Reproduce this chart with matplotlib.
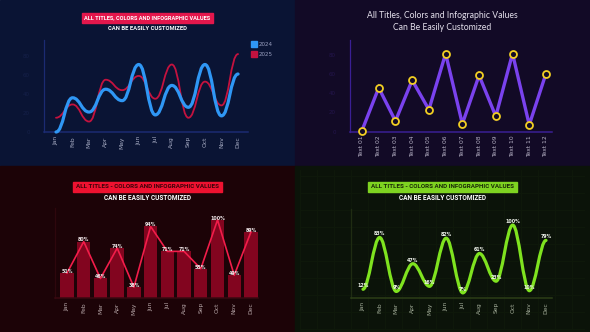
import matplotlib.pyplot as plt
from matplotlib.patches import Rectangle, PathPatch
from matplotlib.path import Path
from matplotlib.lines import Line2D

months = ["Jan", "Feb", "Mar", "Apr", "May", "Jun", "Jul", "Aug", "Sep", "Oct", "Nov", "Dec"]
sales_2024 = [0, 36, 21, 45, 33, 71, 18, 49, 26, 71, 17, 61]
sales_2025 = [15, 29, 11, 55, 44, 59, 35, 71, 15, 53, 28, 82]

text_labels = ["Text 01", "Text 02", "Text 03", "Text 04", "Text 05", "Text 06",
               "Text 07", "Text 08", "Text 09", "Text 10", "Text 11", "Text 12"]
text_values = [1, 46, 11, 54, 23, 82, 8, 59, 16, 82, 7, 61]

bar_values = [51, 80, 46, 74, 38, 94, 71, 71, 55, 100, 49, 89]
green_values = [12, 83, 9, 47, 16, 82, 7, 61, 23, 100, 10, 79]

y_ticks = [0, 20, 40, 60, 80]

W, H = 590, 332
fig = plt.figure(figsize=(W / 100, H / 100), dpi=100)

NARROW = ["Roboto", "DejaVu Sans"]


def rect(l, t, r, b):
    return [l / W, 1 - b / H, (r - l) / W, (b - t) / H]


def bg(l, t, r, b, color):
    fig.add_artist(Rectangle((l / W, 1 - b / H), (r - l) / W, (b - t) / H,
                             transform=fig.transFigure, color=color, zorder=-10))


def ftext(x, y, s, **kw):
    fig.text(x / W, 1 - y / H, s, ha="center", va="center", **kw)


def smooth(ax, ys, k, **kw):
    xs = list(range(len(ys)))
    verts = [(xs[0], ys[0])]
    codes = [Path.MOVETO]
    for i in range(len(xs) - 1):
        dx = xs[i + 1] - xs[i]
        verts += [(xs[i] + k * dx, ys[i]), (xs[i + 1] - k * dx, ys[i + 1]), (xs[i + 1], ys[i + 1])]
        codes += [Path.CURVE4] * 3
    ax.add_patch(PathPatch(Path(verts, codes), fill=False, capstyle="round",
                           joinstyle="round", clip_on=False, **kw))


def style_axes(ax, axis_color, label_color, labels):
    ax.set_facecolor("none")
    for s in ["top", "right"]:
        ax.spines[s].set_visible(False)
    ax.spines["left"].set_color(axis_color)
    ax.spines["bottom"].set_color(axis_color)
    ax.spines["left"].set_linewidth(0.9)
    ax.spines["bottom"].set_linewidth(1.1)
    ax.set_xticks(range(len(labels)))
    ax.set_xticklabels(labels, rotation=90, fontsize=4.3, color=label_color, va="top")
    ax.tick_params(axis="x", length=0, pad=3)
    ax.tick_params(axis="y", length=0)


# backgrounds
bg(0, 0, 295, 166, "#0a1434")
bg(295, 0, 590, 166, "#120a26")
bg(0, 166, 295, 332, "#1c0307")
bg(295, 166, 590, 332, "#0b1309")

# ---------------- panel 1: smooth lines
ax1 = fig.add_axes(rect(44, 40, 248, 132))
style_axes(ax1, "#1b2b72", "#a7acc4", months)
ax1.set_xlim(-0.725, 11.6)
ax1.set_ylim(0, 96.8)
ax1.set_yticks(y_ticks)
ax1.set_yticklabels([str(v) for v in y_ticks], fontsize=4, color="#152049")
ax1.tick_params(axis="y", pad=10)
smooth(ax1, sales_2025, 0.45, color="#c4123f", lw=1.3, zorder=2)
smooth(ax1, sales_2024, 0.45, color="#2f97f5", lw=2.3, zorder=3)
handles = [Line2D([], [], marker="s", ls="none", color="#2f97f5", markersize=4),
           Line2D([], [], marker="s", ls="none", color="#c4123f", markersize=4)]
leg = ax1.legend(handles, ["2024", "2025"], loc="upper left", bbox_to_anchor=(1.01, 1.0),
                 frameon=False, fontsize=4, handletextpad=0.3, labelspacing=0.9,
                 handlelength=0.8, borderaxespad=0)
for t in leg.get_texts():
    t.set_color("#9aa0c0")

fig.add_artist(Rectangle((82 / W, 1 - 23 / H), 131 / W, 10 / H, transform=fig.transFigure,
                         color="#e3174c"))
ftext(147.5, 18, "ALL TITLES, COLORS AND INFOGRAPHIC VALUES", fontsize=4.1,
      fontweight="bold", color="white", family=NARROW)
ftext(147.5, 28.5, "CAN BE EASILY CUSTOMIZED", fontsize=4.2, fontweight="bold",
      color="white", family=NARROW)

# ---------------- panel 2: line with ring markers
ax2 = fig.add_axes(rect(350, 40, 552, 131.5))
style_axes(ax2, "#3a1f94", "#b7b2c6", text_labels)
ax2.set_xlim(-0.717, 11.36)
ax2.set_ylim(0, 96.3)
ax2.set_yticks(y_ticks)
ax2.set_yticklabels([str(v) for v in y_ticks], fontsize=4, color="#24154c")
ax2.tick_params(axis="y", pad=10)
ax2.plot(range(len(text_values)), text_values, color="#7a42ee", lw=2.4, zorder=2,
         clip_on=False, solid_joinstyle="miter")
ax2.plot(range(len(text_values)), text_values, ls="none", marker="o", markersize=5,
         markerfacecolor="#120a26", markeredgecolor="#f2cf22", markeredgewidth=1.3,
         zorder=3, clip_on=False)

ftext(442, 16, "All Titles, Colors and Infographic Values", fontsize=6.2,
      color="#e4e0ec", family=["Lato", "DejaVu Sans"])
ftext(442, 28, "Can Be Easily Customized", fontsize=6.2,
      color="#e4e0ec", family=["Lato", "DejaVu Sans"])

# ---------------- panel 3: bars + line
ax3 = fig.add_axes(rect(55, 208, 258, 298))
style_axes(ax3, "#3a0911", "#b8a8aa", months)
ax3.spines["left"].set_color("#2e070d")
ax3.set_xlim(-0.717, 11.42)
ax3.set_ylim(28, 111)
ax3.set_yticks([])
ax3.bar(range(len(bar_values)), bar_values, width=0.8, color="#82051f", zorder=1)
ax3.plot(range(len(bar_values)), bar_values, color="#f21d4a", lw=1.2, zorder=2,
         clip_on=False)
for i, v in enumerate(bar_values):
    ax3.text(i, v + 1.5, f"{v}%", ha="center", va="center", fontsize=3.4,
             color="#f0e6e8", fontweight="bold", zorder=3, clip_on=False)

fig.add_artist(Rectangle((73 / W, 1 - 192 / H), 149 / W, 10.5 / H, transform=fig.transFigure,
                         color="#ee1230"))
ftext(147.5, 186.8, "ALL TITLES - COLORS AND INFOGRAPHIC VALUES", fontsize=4.5,
      fontweight="bold", color="#3a0309", family=NARROW)
ftext(147.5, 198, "CAN BE EASILY CUSTOMIZED", fontsize=4.7, fontweight="bold",
      color="white", family=NARROW)

# ---------------- panel 4: smooth green line
grid_ax = fig.add_axes(rect(300, 170, 585, 330))
grid_ax.set_facecolor("none")
grid_ax.set_xlim(300, 585)
grid_ax.set_ylim(330, 170)
grid_ax.set_xticks(range(300, 586, 17))
grid_ax.set_yticks(range(176, 331, 17))
grid_ax.grid(True, color="#0f190b", lw=0.6)
grid_ax.tick_params(length=0, labelbottom=False, labelleft=False)
for s in grid_ax.spines.values():
    s.set_visible(False)

ax4 = fig.add_axes(rect(351, 209, 552, 298))
style_axes(ax4, "#2c3e17", "#a6b09c", months)
ax4.spines["left"].set_color("#1f2c12")
ax4.set_xlim(-0.72, 11.36)
ax4.set_ylim(0, 122)
ax4.set_yticks([])
smooth(ax4, green_values, 0.36, color="#7fe31f", lw=2.3, zorder=2)
for i, v in enumerate(green_values):
    ax4.text(i, v + 5, f"{v}%", ha="center", va="center", fontsize=3.4,
             color="#eef2ea", fontweight="bold", zorder=3, clip_on=False)

fig.add_artist(Rectangle((368 / W, 1 - 192 / H), 149 / W, 10.5 / H, transform=fig.transFigure,
                         color="#7ed321"))
ftext(442.5, 186.8, "ALL TITLES - COLORS AND INFOGRAPHIC VALUES", fontsize=4.5,
      fontweight="bold", color="#1a2a06", family=NARROW)
ftext(442.5, 198, "CAN BE EASILY CUSTOMIZED", fontsize=4.7, fontweight="bold",
      color="white", family=NARROW)

fig.savefig("out.png", dpi=100)
